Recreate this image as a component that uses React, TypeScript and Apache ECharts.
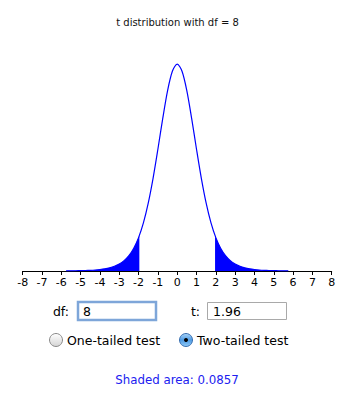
import React, { useEffect, useRef } from "react";
import * as echarts from "echarts";

const xs = [-5.75, -5.5, -5.25, -5, -4.75, -4.5, -4.25, -4, -3.75, -3.5, -3.25, -3, -2.75, -2.5, -2.25, -2, -1.75, -1.5, -1.25, -1, -0.75, -0.5, -0.25, 0, 0.25, 0.5, 0.75, 1, 1.25, 1.5, 1.75, 2, 2.25, 2.5, 2.75, 3, 3.25, 3.5, 3.75, 4, 4.25, 4.5, 4.75, 5, 5.25, 5.5, 5.75];
const density = [0.00025, 0.00034, 0.00047, 0.00066, 0.00093, 0.00132, 0.0019, 0.00276, 0.00402, 0.00592, 0.00876, 0.013, 0.0194, 0.0288, 0.0426, 0.0624, 0.0899, 0.1268, 0.1733, 0.2276, 0.2848, 0.3367, 0.3734, 0.3867, 0.3734, 0.3367, 0.2848, 0.2276, 0.1733, 0.1268, 0.0899, 0.0624, 0.0426, 0.0288, 0.0194, 0.013, 0.00876, 0.00592, 0.00402, 0.00276, 0.0019, 0.00132, 0.00093, 0.00066, 0.00047, 0.00034, 0.00025];
const cutX = 1.96;
const cutDensity = 0.0662;
const tickValues = [-8, -7, -6, -5, -4, -3, -2, -1, 0, 1, 2, 3, 4, 5, 6, 7, 8];

const titleText = "t distribution with df = 8";
const dfValue = "8";
const tValue = "1.96";
const oneTailed = "One-tailed test";
const twoTailed = "Two-tailed test";
const shadedText = "Shaded area: 0.0857";

const FONT = "'DejaVu Sans', 'Noto Sans', sans-serif";

export default function App() {
  const ref = useRef<HTMLDivElement>(null);
  useEffect(() => {
    document.body.style.margin = "0";
    const chart = echarts.init(ref.current!, undefined, { renderer: "svg" });
    const curve = xs.map((x, i) => [x, density[i]]);
    const left = [
      ...xs.filter((x) => x < -cutX).map((x) => [x, density[xs.indexOf(x)]]),
      [-cutX, cutDensity],
    ];
    const right = [
      [cutX, cutDensity],
      ...xs.filter((x) => x > cutX).map((x) => [x, density[xs.indexOf(x)]]),
    ];
    const areaSeries = (data: number[][]) => ({
      type: "line",
      data,
      smooth: 0.3,
      symbol: "none",
      lineStyle: { width: 0 },
      areaStyle: { color: "#0000ff", opacity: 1 },
      silent: true,
      z: 1,
    });
    chart.setOption({
      animation: false,
      backgroundColor: "#ffffff",
      title: {
        text: titleText,
        left: "center",
        top: 17,
        padding: 0,
        textStyle: { fontSize: 10, fontWeight: "normal", color: "#111", fontFamily: FONT },
      },
      grid: { left: 22.7, right: 23.3, top: 57, bottom: 122, containLabel: false },
      xAxis: {
        type: "value",
        min: -8,
        max: 8,
        interval: 1,
        axisLine: { lineStyle: { color: "#000", width: 1 } },
        axisTick: { show: true, length: 4, lineStyle: { color: "#000" } },
        axisLabel: {
          margin: 6,
          fontSize: 11,
          color: "#000",
          fontFamily: FONT,
          customValues: tickValues,
          formatter: (v: number) => String(v),
        },
        splitLine: { show: false },
      },
      yAxis: { type: "value", min: 0, max: 0.4, show: false },
      series: [
        areaSeries(left),
        areaSeries(right),
        {
          type: "line",
          data: curve,
          smooth: 0.3,
          symbol: "none",
          lineStyle: { color: "#0000ff", width: 1.2 },
          z: 2,
        },
      ],
      graphic: [
        { type: "text", x: 69, y: 311, style: { text: "df:", font: `12.5px ${FONT}`, fill: "#000", align: "right", verticalAlign: "middle" } },
        { type: "rect", shape: { x: 78, y: 302, width: 78, height: 18 }, style: { fill: "#fff", stroke: "#7ea6d9", lineWidth: 2.5 } },
        { type: "text", x: 83, y: 311.5, style: { text: dfValue, font: `12.5px ${FONT}`, fill: "#000", verticalAlign: "middle" } },
        { type: "text", x: 200, y: 311, style: { text: "t:", font: `12.5px ${FONT}`, fill: "#000", align: "right", verticalAlign: "middle" } },
        { type: "rect", shape: { x: 207.5, y: 302.5, width: 79, height: 17 }, style: { fill: "#fff", stroke: "#a9a9a9", lineWidth: 1 } },
        { type: "text", x: 213, y: 311.5, style: { text: tValue, font: `12.5px ${FONT}`, fill: "#000", verticalAlign: "middle" } },
        {
          type: "circle",
          shape: { cx: 56, cy: 340, r: 6.5 },
          style: {
            fill: new echarts.graphic.LinearGradient(0, 0, 0, 1, [
              { offset: 0, color: "#ffffff" },
              { offset: 1, color: "#d4d4d4" },
            ]),
            stroke: "#8a8a8a",
            lineWidth: 1,
          },
        },
        { type: "text", x: 67, y: 340, style: { text: oneTailed, font: `12.5px ${FONT}`, fill: "#000", verticalAlign: "middle" } },
        {
          type: "circle",
          shape: { cx: 186, cy: 340, r: 6.5 },
          style: {
            fill: new echarts.graphic.LinearGradient(0, 0, 0, 1, [
              { offset: 0, color: "#a9d3f7" },
              { offset: 0.5, color: "#4f9be3" },
              { offset: 1, color: "#8fcaf7" },
            ]),
            stroke: "#3a6fb0",
            lineWidth: 1,
          },
        },
        { type: "circle", shape: { cx: 186, cy: 340, r: 2 }, style: { fill: "#000" } },
        { type: "text", x: 197, y: 340, style: { text: twoTailed, font: `12.5px ${FONT}`, fill: "#000", verticalAlign: "middle" } },
        { type: "text", x: 177, y: 380, style: { text: shadedText, font: `11.8px ${FONT}`, fill: "#2020f0", align: "center", verticalAlign: "middle" } },
      ],
    });
    return () => chart.dispose();
  }, []);
  return <div ref={ref} style={{ width: 355, height: 393 }} />;
}
